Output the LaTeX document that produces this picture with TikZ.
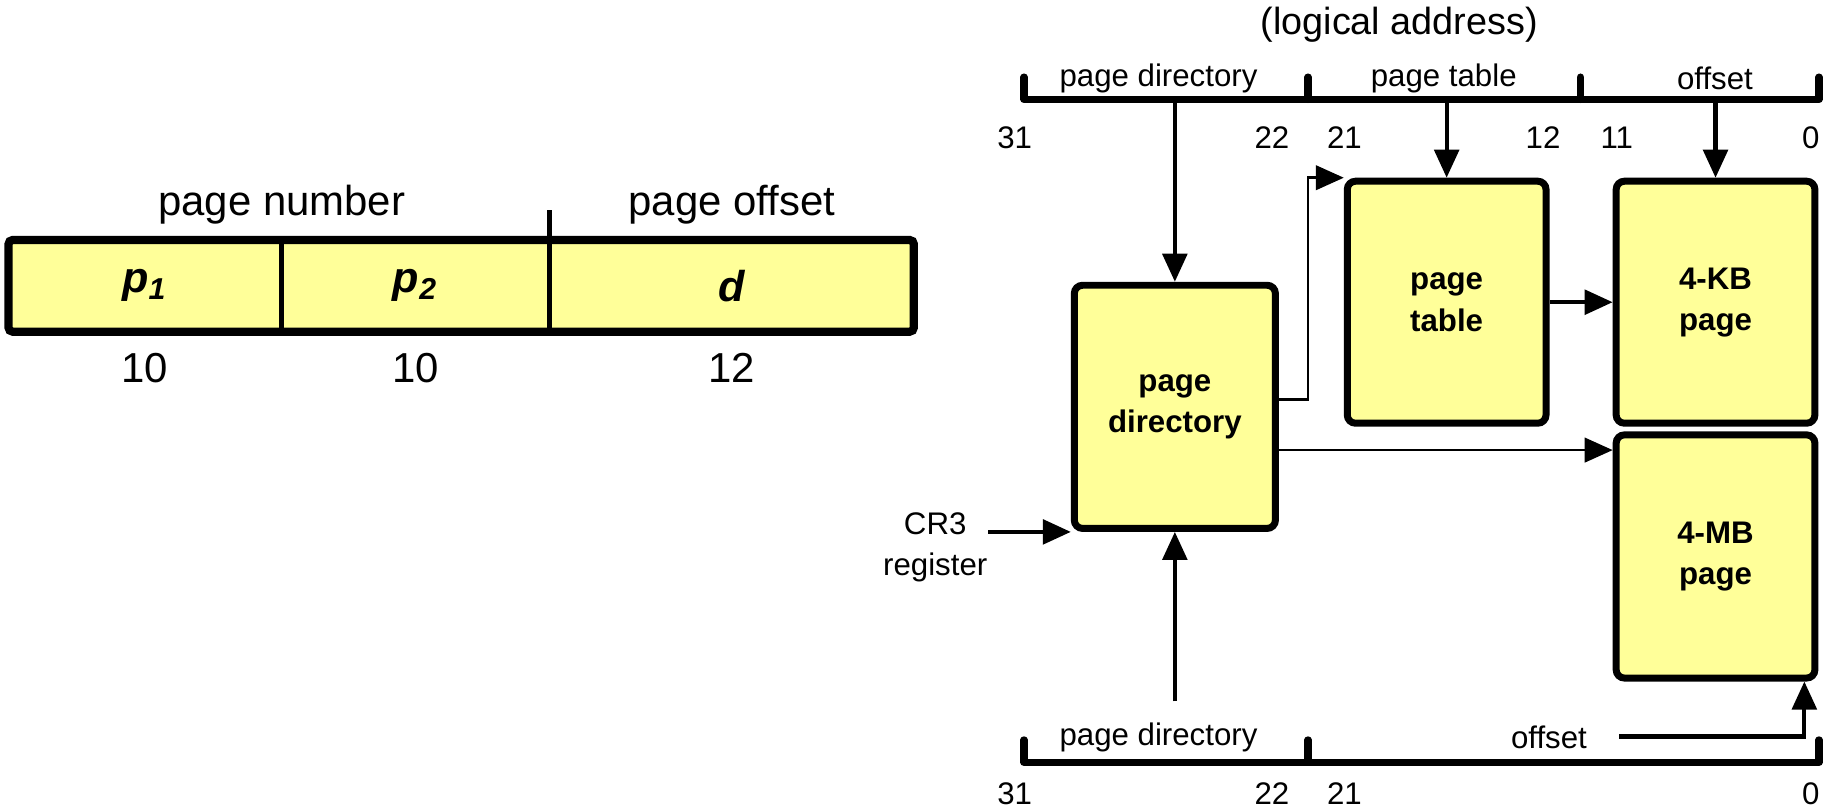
\documentclass[tikz,border=0pt]{standalone}
\usepackage{fontspec}
\setmainfont{Liberation Sans}
\usepackage{xcolor}
\usetikzlibrary{
	arrows.meta,
	positioning,
	calc
}
\definecolor{pageyellow}{RGB}{255,255,153}

\begin{document}
\begin{tikzpicture}[
    cell/.style={
        rectangle,
        fill=pageyellow,
        minimum height=0.77cm,
        inner sep=0pt,
        font=\fontsize{10.5}{12}\selectfont\bfseries\itshape
    },
    reg_frame/.style={
        draw=black,
        line width=2pt,
        rounded corners=1pt
    },
    divider/.style={
        draw=black,
        line width=1.2pt
    },
    big_label/.style={
        font=\fontsize{10.2}{12}\selectfont,
        inner sep=0pt
    },
    mem_box/.style={
        rectangle,
        rounded corners=2pt,
        draw=black,
        line width=1.7pt,
        fill=pageyellow,
        minimum width=1.7cm,
        minimum height=2.07cm,
        inner sep=0pt,
        font=\fontsize{7.6}{10}\selectfont\bfseries,
        align=center
    },
    field_label/.style={
        font=\fontsize{7.6}{9}\selectfont,
        inner sep=0pt
    },
    bit_label/.style={
        font=\fontsize{7.6}{9}\selectfont,
        inner sep=0pt
    },
    bracket/.style={
        draw=black,
        line width=1.8pt,
        line join=round,
        line cap=round
    },
    addr_edge/.style={
        -{Triangle[length=2.4mm, width=2.1mm]},
        line width=1pt
    },
    link_edge/.style={
        -{Triangle[length=2.4mm, width=2.1mm]},
        line width=0.65pt
    }
]
    \useasboundingbox (0,0) rectangle (15.68,-6.92);

    % ====== left: the two-level address ======
    \node[cell, minimum width=2.32cm] (p_one) at (1.24,-2.445) {p\textsubscript{1}};
    \node[cell, minimum width=2.31cm] (p_two) at (3.555,-2.445) {p\textsubscript{2}};
    \node[cell, minimum width=3.10cm] (d_field) at (6.26,-2.445) {d};

    % frame and dividers
    \draw[reg_frame] (p_one.north west) rectangle (d_field.south east);
    \draw[divider] (p_one.north east) -- (p_one.south east);
    \draw[divider] (d_field.south west) -- ([yshift=0.26cm]d_field.north west);

    \node[big_label] (pnum_label) at (2.41,-1.75) {page number};
    \node[big_label] (poff_label) at (6.26,-1.75) {page offset};

    \node[big_label] (p_one_bits) at (1.24,-3.15) {10};
    \node[big_label] (p_two_bits) at (3.555,-3.15) {10};
    \node[big_label] (d_bits) at (6.26,-3.15) {12};

    % ====== right: logical address, upper field split ======
    \node[big_label, font=\fontsize{9.2}{11}\selectfont] (log_addr) at (11.97,-0.21) {(logical address)};

    \coordinate (top_l) at (8.76,-0.85);
    \coordinate (top_a) at (11.19,-0.85);
    \coordinate (top_b) at (13.52,-0.85);
    \coordinate (top_r) at (15.56,-0.85);
    \draw[bracket] ([yshift=0.19cm]top_l) -- (top_l) -- (top_r) -- ([yshift=0.19cm]top_r);
    \draw[bracket] (top_a) -- ([yshift=0.19cm]top_a);
    \draw[bracket] (top_b) -- ([yshift=0.19cm]top_b);

    \node[field_label] (top_dir) at (9.91,-0.67) {page directory};
    \node[field_label] (top_tab) at (12.35,-0.67) {page table};
    \node[field_label] (top_off) at (14.67,-0.67) {offset};

    \node[bit_label] (tb31) at (8.68,-1.18) {31};
    \node[bit_label] (tb22) at (10.88,-1.18) {22};
    \node[bit_label] (tb21) at (11.50,-1.18) {21};
    \node[bit_label] (tb12) at (13.20,-1.18) {12};
    \node[bit_label] (tb11) at (13.83,-1.18) {11};
    \node[bit_label] (tb0) at (15.49,-1.18) {0};

    % ====== tables and pages ======
    \node[mem_box, minimum width=1.72cm, minimum height=2.08cm] (page_dir) at (10.05,-3.48) {page\\directory};
    \node[mem_box] (page_tab) at (12.375,-2.585) {page\\table};
    \node[mem_box] (page_4kb) at (14.675,-2.585) {4-KB\\page};
    \node[mem_box, minimum height=2.08cm] (page_4mb) at (14.675,-4.76) {4-MB\\page};

    \node[bit_label, align=center, font=\fontsize{7.6}{10}\selectfont] (cr3_reg) at (8.0,-4.68) {CR3\\register};

    % field arrows
    \draw[addr_edge] (page_dir.north |- top_l) -- (page_dir.north);
    \draw[addr_edge] (page_tab.north |- top_l) -- (page_tab.north);
    \draw[addr_edge] (page_4kb.north |- top_l) -- (page_4kb.north);

    % directory entries
    \coordinate (dir_hi) at ([yshift=0.06cm]page_dir.east);
    \coordinate (dir_lo) at ([yshift=-0.37cm]page_dir.east);
    \draw[link_edge] (dir_hi) -- (dir_hi -| top_a) |- (page_tab.north west);
    \draw[link_edge] (dir_lo) -- (dir_lo -| page_4mb.west);
    \draw[addr_edge] (page_tab.east) -- (page_4kb.west);
    \draw[addr_edge] (cr3_reg.east |- page_dir.south west) -- (page_dir.south west);

    % ====== lower field split ======
    \coordinate (bot_l) at (8.76,-6.52);
    \coordinate (bot_a) at (11.19,-6.52);
    \coordinate (bot_r) at (15.56,-6.52);
    \draw[bracket] ([yshift=0.19cm]bot_l) -- (bot_l) -- (bot_r) -- ([yshift=0.19cm]bot_r);
    \draw[bracket] (bot_a) -- ([yshift=0.19cm]bot_a);

    \node[field_label] (bot_dir) at (9.91,-6.31) {page directory};
    \node[field_label] (bot_off) at (13.25,-6.31) {offset};

    \node[bit_label] (bb31) at (8.68,-6.79) {31};
    \node[bit_label] (bb22) at (10.88,-6.79) {22};
    \node[bit_label] (bb21) at (11.50,-6.79) {21};
    \node[bit_label] (bb0) at (15.49,-6.79) {0};

    \coordinate (dir_src) at (10.05,-6.0);
    \coordinate (off_src) at (13.85,-6.30);
    \draw[addr_edge] (dir_src) -- (page_dir.south);
    \draw[addr_edge] (off_src) -| ([xshift=-0.12cm]page_4mb.south east);

\end{tikzpicture}
\end{document}
